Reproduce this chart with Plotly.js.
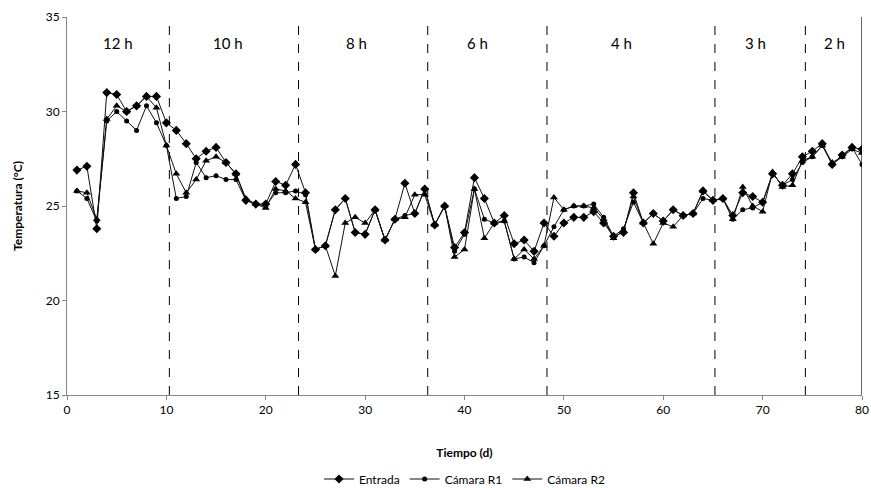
<!DOCTYPE html>
<html>
<head>
<meta charset="utf-8">
<script src="https://cdn.plot.ly/plotly-3.0.1.min.js"></script>
<style>html,body{margin:0;padding:0;background:#fff;}#chart{width:871px;height:488px;}</style>
</head>
<body>
<div id="chart"></div>
<script>
const days = Array.from({length: 80}, (_, i) => i + 1);
const entrada = [26.9,27.1,23.8,31.0,30.9,30.0,30.3,30.8,30.8,29.4,
  29.0,28.3,27.5,27.9,28.1,27.3,26.7,25.3,25.1,25.1,
  26.3,26.1,27.2,25.7,22.7,22.9,24.8,25.4,23.6,23.5,
  24.8,23.2,24.3,26.2,24.6,25.9,24.0,25.0,22.8,23.6,
  26.5,25.4,24.1,24.5,23.0,23.2,22.6,24.1,23.4,24.1,
  24.4,24.4,24.7,24.1,23.4,23.6,25.7,24.1,24.6,24.2,
  24.8,24.5,24.6,25.8,25.3,25.4,24.5,25.7,25.5,25.2,
  26.7,26.1,26.7,27.6,27.9,28.3,27.2,27.7,28.1,28.0];
const camaraR1 = [25.8,25.4,24.2,29.5,30.0,29.5,29.0,30.3,29.4,28.2,
  25.4,25.5,27.3,26.5,26.6,26.4,26.4,25.3,25.1,25.0,
  25.7,25.7,25.8,25.6,22.7,22.9,24.8,25.4,23.6,23.5,
  24.8,23.2,24.3,24.5,24.6,25.9,24.0,25.0,22.6,23.5,
  25.9,24.3,24.1,24.2,22.2,22.3,22.0,22.9,23.9,24.8,
  25.0,25.0,25.1,24.4,23.4,23.8,25.2,24.1,24.6,24.2,
  24.8,24.5,24.6,25.4,25.3,25.4,24.3,24.8,24.9,25.2,
  26.7,26.1,26.4,27.3,27.6,28.2,27.2,27.6,28.1,27.2];
const camaraR2 = [25.8,25.7,24.3,29.6,30.3,30.0,30.3,30.8,30.2,28.2,
  26.7,25.7,26.4,27.4,27.6,27.3,26.7,25.4,25.1,24.9,
  25.9,25.8,25.4,25.2,22.7,22.9,21.3,24.1,24.4,24.1,
  24.8,23.2,24.3,24.4,25.6,25.6,24.0,25.0,22.3,22.7,
  25.9,23.3,24.1,24.2,22.2,22.7,22.2,22.9,25.45,24.8,
  25.0,25.0,24.9,24.3,23.3,23.7,25.5,24.1,23.0,24.1,
  23.9,24.5,24.6,25.8,25.3,25.4,24.3,26.0,25.0,24.7,
  26.8,26.0,26.1,27.4,27.6,28.2,27.3,27.6,28.0,27.8];
const boundaries = [10.3, 23.3, 36.3, 48.3, 65.2, 74.3];
const sectionLabels = ["12 h","10 h","8 h","6 h","4 h","3 h","2 h"];
const sectionX = [5.1, 16.2, 29.1, 41.3, 55.8, 69.3, 77.2];
const seriesNames = ["Entrada","Cámara R1","Cámara R2"];

const font = "Lato, 'Open Sans', 'Liberation Sans', sans-serif";
const traces = [
  {x: days, y: entrada, name: seriesNames[0], mode: 'lines+markers',
   line: {color: '#111', width: 1}, marker: {symbol: 'diamond', size: 7, color: '#000'}},
  {x: days, y: camaraR1, name: seriesNames[1], mode: 'lines+markers',
   line: {color: '#111', width: 1}, marker: {symbol: 'circle', size: 5, color: '#000'}},
  {x: days, y: camaraR2, name: seriesNames[2], mode: 'lines+markers',
   line: {color: '#111', width: 1}, marker: {symbol: 'triangle-up', size: 7, color: '#000'}}
];
const shapes = boundaries.map(b => ({type: 'line', xref: 'x', yref: 'y', x0: b, x1: b, y0: 15, y1: 35,
  line: {color: '#000', width: 1, dash: 'dash'}}));
shapes.push({type: 'line', xref: 'x', yref: 'y', x0: 80, x1: 80, y0: 15, y1: 35, line: {color: '#000', width: 1.2}});
const annotations = sectionLabels.map((t, i) => ({x: sectionX[i], y: 33.6, xref: 'x', yref: 'y', text: t,
  showarrow: false, font: {family: font, size: 15, color: '#000'}}));

const layout = {
  width: 871, height: 488,
  margin: {l: 67, r: 9, t: 17, b: 93},
  paper_bgcolor: '#fff', plot_bgcolor: '#fff',
  font: {family: font, size: 12, color: '#000'},
  showlegend: true,
  legend: {orientation: 'h', x: 0.5, xanchor: 'center', xref: 'paper', y: 9/488, yref: 'container', yanchor: 'middle',
    font: {family: font, size: 12, color: '#000'}, itemwidth: 30},
  xaxis: {range: [0, 80], dtick: 10, tick0: 0, showgrid: false, zeroline: false,
    showline: true, linecolor: '#888', linewidth: 1, ticks: 'outside', ticklen: 4, tickcolor: '#888',
    tickfont: {family: font, size: 12}, automargin: false,
    title: {text: '<b>Tiempo (d)</b>', font: {family: font, size: 12}, standoff: 32}},
  yaxis: {range: [15, 35], dtick: 5, tick0: 15, showgrid: false, zeroline: false,
    showline: true, linecolor: '#888', linewidth: 1, ticks: 'outside', ticklen: 4, tickcolor: '#888',
    tickfont: {family: font, size: 12}, automargin: false,
    title: {text: '<b>Temperatura (°C)</b>', font: {family: font, size: 12}, standoff: 20}},
  shapes: shapes,
  annotations: annotations
};
Plotly.newPlot('chart', traces, layout, {displayModeBar: false, staticPlot: true});
</script>
</body>
</html>
